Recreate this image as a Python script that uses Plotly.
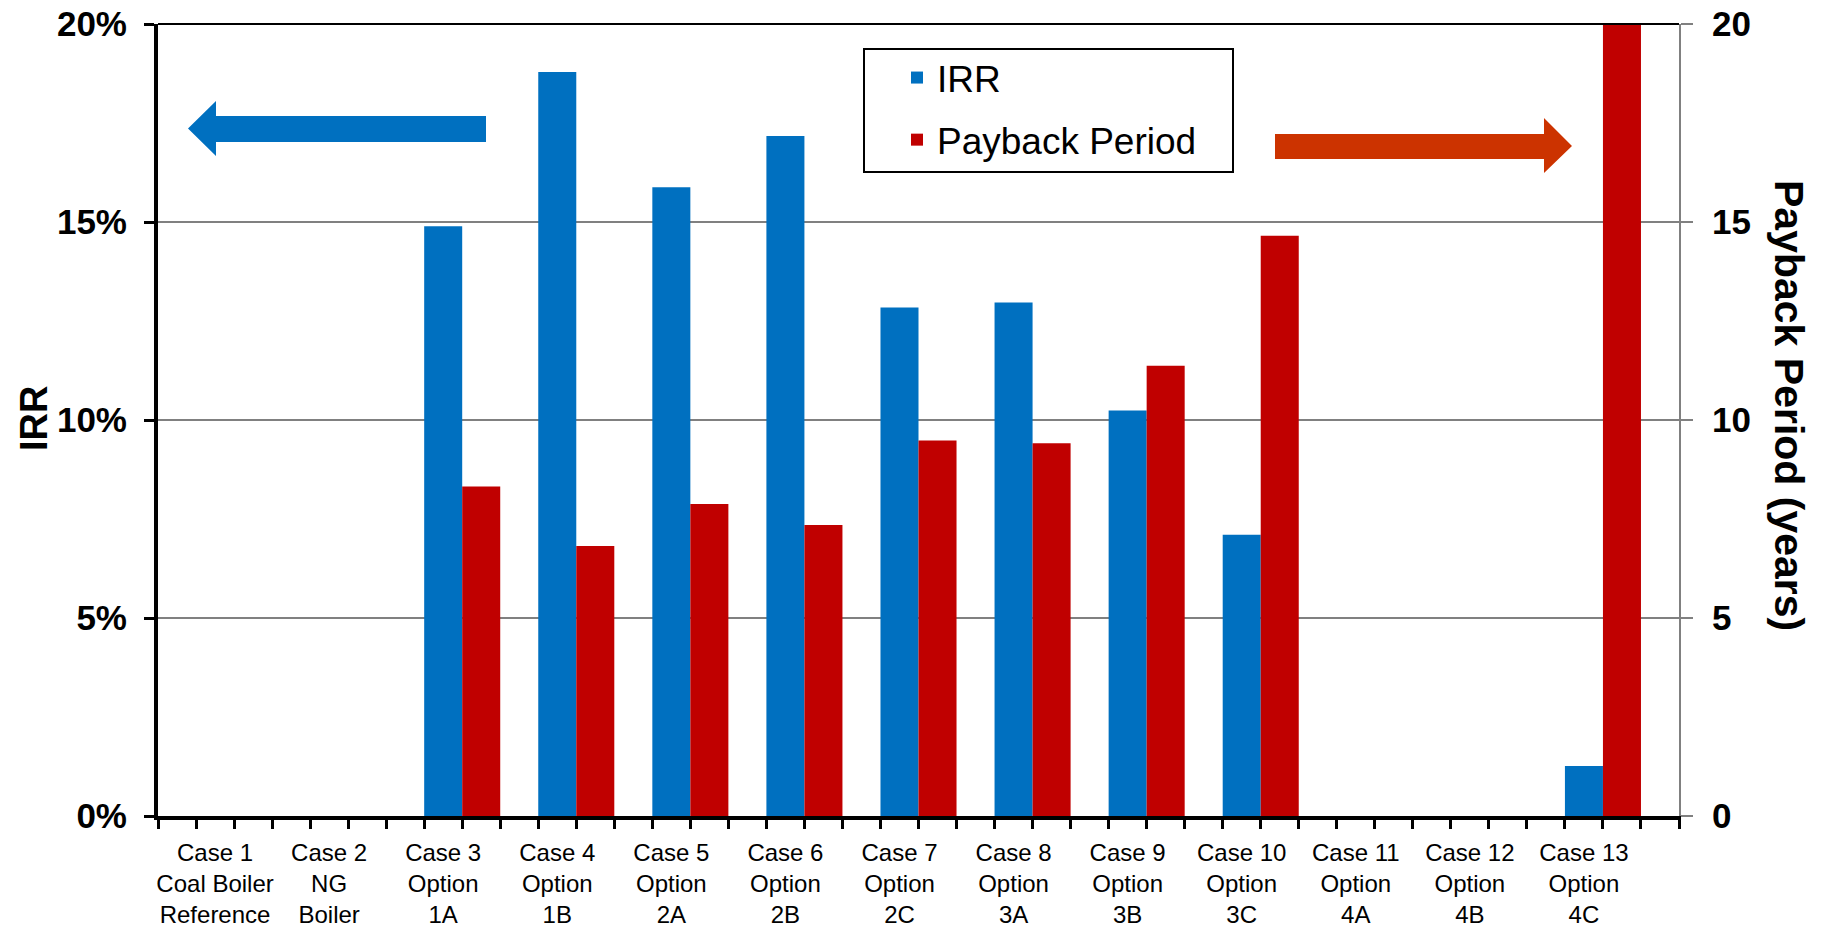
import plotly.graph_objects as go

# ---- data ----
case_labels = [
    "Case 1<br>Coal Boiler<br>Reference", "Case 2<br>NG<br>Boiler",
    "Case 3<br>Option<br>1A", "Case 4<br>Option<br>1B", "Case 5<br>Option<br>2A",
    "Case 6<br>Option<br>2B", "Case 7<br>Option<br>2C", "Case 8<br>Option<br>3A",
    "Case 9<br>Option<br>3B", "Case 10<br>Option<br>3C", "Case 11<br>Option<br>4A",
    "Case 12<br>Option<br>4B", "Case 13<br>Option<br>4C",
]
irr = [None, None, 0.1489, 0.1879, 0.1588, 0.1717, 0.1284, 0.1297, 0.1024, 0.0710, None, None, 0.0126]
payback = [None, None, 8.32, 6.82, 7.88, 7.35, 9.48, 9.41, 11.37, 14.65, None, None, 20.0]
irr_ticks = [0, 0.05, 0.10, 0.15, 0.20]
payback_ticks = [0, 5, 10, 15, 20]

BLUE = "#0070C0"
RED = "#C00000"
ARROW_RED = "#CC3300"
FONT = "Arial, Liberation Sans"

n = len(case_labels)
group_pos = [3 * i + 2 for i in range(n)]      # centre of each bar pair
label_pos = [3 * i + 1.5 for i in range(n)]    # category label position

fig = go.Figure()
fig.add_trace(go.Bar(
    x=group_pos, y=irr, name="IRR", yaxis="y", width=1, offset=-1,
    marker=dict(color=BLUE, line=dict(width=0)), legendgroup="a",
))
fig.add_trace(go.Bar(
    x=group_pos, y=payback, name="Payback Period", yaxis="y2", width=1, offset=0,
    marker=dict(color=RED, line=dict(width=0)), legendgroup="b",
))

FIG_W, FIG_H = 1826, 933
# plot area in pixels
L, R, T, B = 158, 1679, 24, 816
W, H = R - L, B - T


def px(x):
    return (x - L) / W


def py(y):
    return (B - y) / H


def arrow_path(pts):
    return "M " + " L ".join(f"{px(x):.5f},{py(y):.5f}" for x, y in pts) + " Z"


blue_arrow = [(486, 116), (216, 116), (216, 101), (188, 128.5), (216, 156), (216, 142), (486, 142)]
red_arrow = [(1275, 134), (1544, 134), (1544, 118), (1572, 146), (1544, 173), (1544, 159), (1275, 159)]

shapes = [
    dict(type="line", xref="paper", yref="paper", x0=0, x1=1, y0=1, y1=1,
         line=dict(color="black", width=2), layer="above"),
    dict(type="path", xref="paper", yref="paper", path=arrow_path(blue_arrow),
         fillcolor=BLUE, line=dict(width=0), layer="above"),
    dict(type="path", xref="paper", yref="paper", path=arrow_path(red_arrow),
         fillcolor=ARROW_RED, line=dict(width=0), layer="above"),
    dict(type="rect", xref="paper", yref="paper", x0=px(864), x1=px(1233), y0=py(172), y1=py(49),
         line=dict(color="black", width=2), fillcolor="white", layer="above"),
]

fig.update_layout(
    width=FIG_W, height=FIG_H, autosize=False,
    margin=dict(l=L, r=FIG_W - R, t=T, b=FIG_H - B),
    paper_bgcolor="white", plot_bgcolor="white",
    barmode="overlay",
    font=dict(family=FONT, color="black"),
    xaxis=dict(
        range=[0, 40], tickmode="array", tickvals=label_pos, ticktext=case_labels,
        ticks="", showline=True, linecolor="black", linewidth=4,
        showgrid=False, zeroline=False, automargin=False,
        tickfont=dict(family=FONT, size=24, color="black"),
        ticklabelstandoff=12, ticklabeloverflow="allow",
        minor=dict(tick0=0, dtick=1, ticks="outside", ticklen=9, tickwidth=3,
                   tickcolor="black", showgrid=False),
    ),
    yaxis=dict(
        range=[0, 0.2], tickmode="array", tickvals=irr_ticks, tickformat=".0%",
        ticks="outside", ticklen=10, tickwidth=3, tickcolor="black",
        showline=True, linecolor="black", linewidth=4, automargin=False,
        showgrid=True, gridcolor="#808080", gridwidth=2, zeroline=False,
        tickfont=dict(family=FONT, size=35, color="black", weight="bold"),
        ticklabelstandoff=10, ticklabeloverflow="allow",
    ),
    yaxis2=dict(
        range=[0, 20], tickmode="array", tickvals=payback_ticks, overlaying="y", side="right",
        ticks="outside", ticklen=12, tickwidth=2, tickcolor="#808080",
        showline=True, linecolor="#808080", linewidth=2, automargin=False,
        showgrid=False, zeroline=False,
        tickfont=dict(family=FONT, size=35, color="black", weight="bold"),
        ticklabelstandoff=12, ticklabeloverflow="allow",
    ),
    legend=dict(
        x=px(897), y=py(47), xanchor="left", yanchor="top",
        bgcolor="rgba(0,0,0,0)", borderwidth=0,
        font=dict(family=FONT, size=37, color="black"),
        traceorder="grouped", tracegroupgap=11,
    ),
    shapes=shapes,
    annotations=[
        dict(text="IRR", xref="paper", yref="paper",
             x=px(34), y=py(419), textangle=-90, showarrow=False,
             xanchor="center", yanchor="middle",
             font=dict(family=FONT, size=38, color="black", weight="bold")),
        dict(text="Payback Period (years)", xref="paper", yref="paper",
             x=px(1789), y=py(405), textangle=90, showarrow=False,
             xanchor="center", yanchor="middle",
             font=dict(family=FONT, size=41, color="black", weight="bold")),
    ],
)

fig.write_html(
    "out.html",
    config={"displayModeBar": False},
    post_script="document.body.style.margin='0px';document.body.style.overflow='hidden';",
)
